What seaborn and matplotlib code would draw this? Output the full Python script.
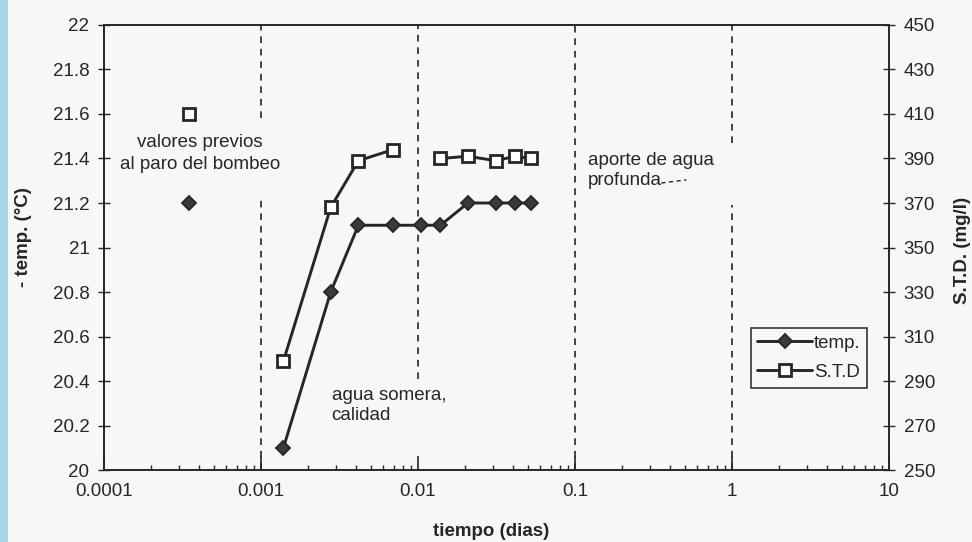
import numpy as np
import pandas as pd
import matplotlib
matplotlib.use("Agg")
import matplotlib.pyplot as plt
import matplotlib.ticker as mticker
import seaborn as sns
from matplotlib.lines import Line2D
from matplotlib.patches import Rectangle

# --- data -----------------------------------------------------------------
tiempo_dias = [0.00139, 0.00278, 0.00417, 0.00694, 0.0104, 0.0139, 0.0208, 0.0313, 0.0417, 0.0521]
temp_c = [20.1, 20.8, 21.1, 21.1, 21.1, 21.1, 21.2, 21.2, 21.2, 21.2]
std_mgl = [299, 368, 389, 394, np.nan, 390, 391, 389, 391, 390]

previo_dias = [0.00035]
previo_temp = [21.2]
previo_std = [410]

x_ticks = [0.0001, 0.001, 0.01, 0.1, 1, 10]
x_labels = ["0.0001", "0.001", "0.01", "0.1", "1", "10"]
temp_ticks = [20, 20.2, 20.4, 20.6, 20.8, 21, 21.2, 21.4, 21.6, 21.8, 22]
std_ticks = [250, 270, 290, 310, 330, 350, 370, 390, 410, 430, 450]

# --- style ----------------------------------------------------------------
sns.set_style("white")
plt.rcParams["font.family"] = ["Liberation Sans", "DejaVu Sans"]
INK = "#262626"
PAPER = "#f7f7f5"
FS = 13.5

fig = plt.figure(figsize=(9.72, 5.42), dpi=100, facecolor=PAPER)
ax = fig.add_axes([0.107, 0.1328, 0.8076, 0.8211])
ax.set_facecolor(PAPER)
ax.set_xscale("log")
ax2 = ax.twinx()

temp_style = dict(color=INK, marker="D", markersize=7.5, markerfacecolor="#3a3a3a",
                  markeredgecolor=INK, markeredgewidth=1.3)
std_style = dict(color=INK, marker="s", markersize=9, markerfacecolor="white",
                 markeredgecolor=INK, markeredgewidth=2.0)

# temperature series (continuous)
df_temp = pd.DataFrame({"t": tiempo_dias, "temp": temp_c})
sns.lineplot(data=df_temp, x="t", y="temp", estimator=None, ax=ax,
             lw=2.1, legend=False, **temp_style)

# dissolved solids: the missing reading splits the curve in two pieces
df_std = pd.DataFrame({"t": tiempo_dias, "std": std_mgl})
df_std["tramo"] = df_std["std"].isna().cumsum()
df_std = df_std.dropna()
sns.lineplot(data=df_std, x="t", y="std", units="tramo", estimator=None, ax=ax2,
             lw=2.1, legend=False, **std_style)

# readings taken before the pump was stopped
sns.lineplot(x=previo_dias, y=previo_temp, estimator=None, ax=ax,
             lw=0, legend=False, **temp_style)
sns.lineplot(x=previo_dias, y=previo_std, estimator=None, ax=ax2,
             lw=0, legend=False, **std_style)

# --- axes -----------------------------------------------------------------
ax.set_xlim(1e-4, 10)
ax.set_ylim(20, 22)
ax2.set_ylim(250, 450)

ax.xaxis.set_major_locator(mticker.FixedLocator(x_ticks))
ax.xaxis.set_major_formatter(mticker.FixedFormatter(x_labels))
ax.xaxis.set_minor_locator(mticker.LogLocator(base=10, subs=range(2, 10), numticks=20))
ax.xaxis.set_minor_formatter(mticker.NullFormatter())
ax.set_yticks(temp_ticks)
ax.yaxis.set_major_formatter(mticker.FormatStrFormatter("%g"))
ax2.set_yticks(std_ticks)

ax.tick_params(axis="x", which="major", direction="in", length=10, width=1.2,
               pad=9, labelsize=FS, colors=INK, top=False, bottom=True)
ax.tick_params(axis="x", which="minor", direction="in", length=3.5, width=1.0,
               colors=INK, top=False, bottom=True)
ax.tick_params(axis="y", which="major", direction="inout", length=9, width=1.0,
               pad=6, labelsize=FS, colors=INK, left=True)
ax2.tick_params(axis="y", which="major", direction="inout", length=9, width=1.0,
                pad=6, labelsize=FS, colors=INK, right=True)

for a in (ax, ax2):
    for s in a.spines.values():
        s.set_visible(True)
        s.set_color(INK)
        s.set_linewidth(1.2)
ax.set_xlabel("")
ax.set_ylabel("")
ax2.set_xlabel("")
ax2.set_ylabel("")
ax.grid(False)
ax2.grid(False)

# dashed decade separators, interrupted where the notes sit
dash = dict(color=INK, lw=1.2, ls=(0, (4, 3.5)), zorder=1)
ax.axvline(0.001, ymin=0.79, ymax=1.0, **dash)
ax.axvline(0.001, ymin=0.0, ymax=0.61, **dash)
ax.axvline(0.01, ymin=0.205, ymax=1.0, **dash)
ax.axvline(0.1, ymin=0.0, ymax=1.0, **dash)
ax.axvline(1, ymin=0.735, ymax=1.0, **dash)
ax.axvline(1, ymin=0.0, ymax=0.595, **dash)

# --- notes ----------------------------------------------------------------
ax.text(0.122, 0.711, "valores previos\nal paro del bombeo", transform=ax.transAxes,
        ha="center", va="center", multialignment="center", fontsize=FS,
        color=INK, linespacing=1.35)
ax.text(0.290, 0.145, "agua somera,\ncalidad", transform=ax.transAxes,
        ha="left", va="center", fontsize=FS, color=INK, linespacing=1.3)
ax.text(0.6166, 0.673, "aporte de agua\nprofunda", transform=ax.transAxes,
        ha="left", va="center", fontsize=FS, color=INK, linespacing=1.3)
ax.plot([0.71, 0.742], [0.645, 0.652], transform=ax.transAxes,
        color=INK, lw=1.0, ls=(0, (3, 2.5)))

# --- legend ---------------------------------------------------------------
handles = [Line2D([], [], lw=2.1, **temp_style), Line2D([], [], lw=2.1, **std_style)]
leg = ax2.legend(handles, ["temp.", "S.T.D"], loc="upper left",
                 bbox_to_anchor=(0.824, 0.319), borderaxespad=0, frameon=True,
                 fancybox=False, edgecolor=INK, facecolor=PAPER, framealpha=1,
                 fontsize=FS, handlelength=2.9, handletextpad=0.1,
                 labelspacing=0.65, borderpad=0.35)
leg.get_frame().set_linewidth(1.1)
for t in leg.get_texts():
    t.set_color(INK)

# --- axis titles ----------------------------------------------------------
fig.text(23 / 972, 1 - 237 / 542, "- temp. (°C)", rotation=90, ha="center",
         va="center", fontsize=FS, fontweight="bold", color=INK)
fig.text(962 / 972, 1 - 250 / 542, "S.T.D. (mg/l)", rotation=90, ha="center",
         va="center", fontsize=FS, fontweight="bold", color=INK)
fig.text(0.505, 1 - 536 / 542, "tiempo (dias)", ha="center", va="baseline",
         fontsize=FS, fontweight="bold", color=INK)

# tinted strip along the left edge of the sheet
fig.patches.append(Rectangle((0, 0), 8 / 972, 1, transform=fig.transFigure,
                             facecolor="#a3d6e6", edgecolor="none", zorder=0))

fig.savefig("out.png", dpi=100, facecolor=PAPER)
